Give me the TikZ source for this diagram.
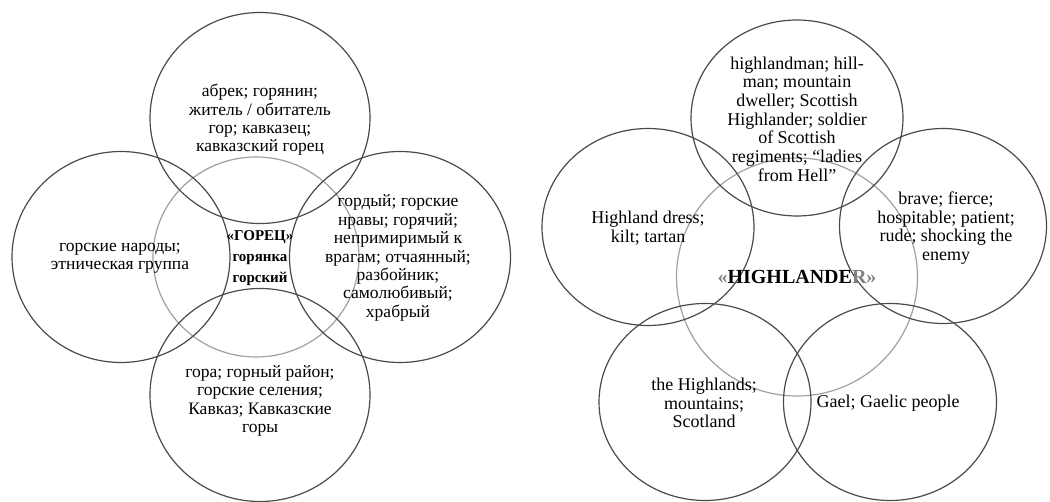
\documentclass[tikz,border=0pt]{standalone}
\usepackage{fontspec}
\setmainfont{Liberation Serif}
\usetikzlibrary{shapes.geometric}
\definecolor{ringcol}{HTML}{4A4A4A}
\definecolor{corecol}{HTML}{A0A0A0}
\tikzset{
  ring/.style={draw=ringcol, line width=1.2pt, ellipse, inner sep=0pt, outer sep=0pt},
  core/.style={draw=corecol, line width=1.2pt, ellipse, inner sep=0pt, outer sep=0pt},
  txtL/.style={align=center, inner sep=0pt, font=\fontsize{17.5}{18.4}\selectfont},
  txtR/.style={align=center, inner sep=0pt, font=\fontsize{18}{18.7}\selectfont},
  ctrL/.style={align=center, inner sep=0pt, font=\bfseries\fontsize{15}{21}\selectfont},
  ctrR/.style={align=center, inner sep=0pt, font=\bfseries\fontsize{20}{22}\selectfont}
}
\begin{document}
\begin{tikzpicture}[x=1pt,y=-1pt]
\useasboundingbox (0,0) rectangle (1050,502);
% ---------- left diagram ----------
\node[core, minimum width=206, minimum height=200] (Lc) at (256,257) {};
\node[ring, minimum width=220, minimum height=211] (Lt) at (260,118) {};
\node[ring, minimum width=218, minimum height=211] (Ll) at (121,257) {};
\node[ring, minimum width=221, minimum height=211] (Lr) at (400,257) {};
\node[ring, minimum width=220, minimum height=213] (Lb) at (260,395) {};
\node[txtL] (Ltt) at (260,120) {абрек; горянин;\\житель / обитатель\\гор; кавказец;\\кавказский горец};
\node[txtL] (Llt) at (120,258) {горские народы;\\этническая группа};
\node[txtL] (Lrt) at (398,258) {гордый; горские\\нравы; горячий;\\непримиримый к\\врагам; отчаянный;\\разбойник;\\самолюбивый;\\храбрый};
\node[txtL] (Lbt) at (260,401) {гора; горный район;\\горские селения;\\Кавказ; Кавказские\\горы};
\node[ctrL] (Lct) at (260,258) {«ГОРЕЦ»\\горянка\\горский};
% ---------- right diagram ----------
\node[core, minimum width=241, minimum height=238] (Rc) at (797,277) {};
\node[ring, minimum width=212, minimum height=196] (Rt) at (797,118) {};
\node[ring, minimum width=212, minimum height=197] (Rl) at (648,227) {};
\node[ring, minimum width=207, minimum height=195] (Rr) at (943,226) {};
\node[ring, minimum width=212, minimum height=197] (Rbl) at (705,402) {};
\node[ring, minimum width=213, minimum height=197] (Rbr) at (890,402) {};
\node[txtR] (Rtt) at (797,119) {highlandman; hill-\\man; mountain\\dweller; Scottish\\Highlander; soldier\\of Scottish\\regiments; “ladies\\from Hell”};
\node[txtR] (Rlt) at (648,228) {Highland dress;\\kilt; tartan};
\node[txtR] (Rrt) at (946,228) {brave; fierce;\\hospitable; patient;\\rude; shocking the\\enemy};
\node[txtR] (Rblt) at (704,403) {the Highlands;\\mountains;\\Scotland};
\node[txtR] (Rbrt) at (888,403) {Gael; Gaelic people};
\node[ctrR] (Rct) at (797,277) {{\color{gray}«}HIGHLANDE{\color{gray}R»}};
\end{tikzpicture}
\end{document}
